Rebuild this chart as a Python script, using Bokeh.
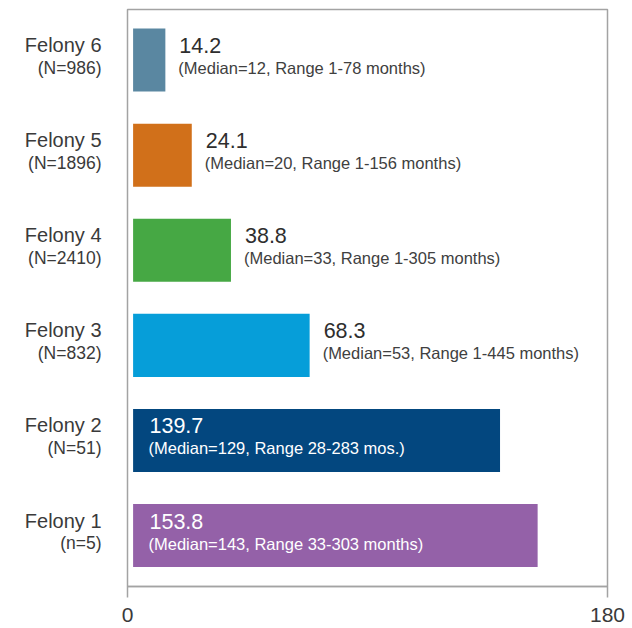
from bokeh.plotting import figure
from bokeh.layouts import row
from bokeh.models import ColumnDataSource, FixedTicker, Range1d
from bokeh.core.properties import value
from bokeh.embed import file_html
from bokeh.resources import INLINE

# ---- data (bottom to top) ----
categories = ["Felony 1", "Felony 2", "Felony 3", "Felony 4", "Felony 5", "Felony 6"]
n_labels = ["(n=5)", "(N=51)", "(N=832)", "(N=2410)", "(N=1896)", "(N=986)"]
means = [153.8, 139.7, 68.3, 38.8, 24.1, 14.2]
mean_labels = ["153.8", "139.7", "68.3", "38.8", "24.1", "14.2"]
details = [
    "(Median=143, Range 33-303 months)",
    "(Median=129, Range 28-283 mos.)",
    "(Median=53, Range 1-445 months)",
    "(Median=33, Range 1-305 months)",
    "(Median=20, Range 1-156 months)",
    "(Median=12, Range 1-78 months)",
]
colors = ["#9461a8", "#03477f", "#069ed9", "#46a844", "#d1701a", "#5a87a1"]
x_ticks = [0, 180]

FONT = value("Liberation Sans")
BAR_GAP = 2.1  # visual gap between frame and bar start
INSIDE_LIMIT = 100
TOP, BOTTOM = 9, 42
LEFT_W = 112

ypos = list(range(len(categories)))
src = ColumnDataSource(dict(y=ypos, cat=categories, n=n_labels, mean=means,
                            color=colors, one=[1] * len(means)))

inside = [i for i, m in enumerate(means) if m > INSIDE_LIMIT]
outside = [i for i, m in enumerate(means) if m <= INSIDE_LIMIT]

def sub(idx):
    return ColumnDataSource(dict(
        y=[ypos[i] for i in idx], mean=[means[i] for i in idx],
        mlab=[mean_labels[i] for i in idx], det=[details[i] for i in idx],
        zero=[0] * len(idx)))

src_in = sub(inside)
src_out = sub(outside)

yr = Range1d(-0.536, 5.532)

# ---- label column (left) ----
lf = figure(width=LEFT_W, height=628, output_backend="svg", toolbar_location=None,
            x_range=Range1d(0, 1), y_range=yr, min_border_left=0,
            min_border_right=0, min_border_top=TOP, min_border_bottom=BOTTOM)
lf.axis.visible = False
lf.grid.visible = False
lf.outline_line_color = None
lf.text(x="one", y="y", text="cat", source=src, x_offset=-11, y_offset=-15,
        text_align="right", text_baseline="middle", text_font=FONT,
        text_font_size="20px", text_color="#3a3a3a")
lf.text(x="one", y="y", text="n", source=src, x_offset=-11, y_offset=7.5,
        text_align="right", text_baseline="middle", text_font=FONT,
        text_font_size="17.5px", text_color="#3a3a3a")

# ---- main chart ----
p = figure(width=632 - LEFT_W, height=628, output_backend="svg",
           toolbar_location=None, x_range=Range1d(0, 180), y_range=yr,
           min_border_left=127 - LEFT_W, min_border_right=25,
           min_border_top=TOP, min_border_bottom=BOTTOM)

p.hbar(y="y", left=BAR_GAP, right="mean", height=0.663, color="color",
       line_color=None, source=src)

for s, xcol, xoff, c1, c2 in [(src_in, "zero", 22, "white", "white"),
                              (src_out, "mean", 14, "#2e2e2e", "#404040")]:
    p.text(x=xcol, y="y", text="mlab", source=s, x_offset=xoff, y_offset=-14.5,
           text_font=FONT, text_font_size="21.5px", text_color=c1,
           text_baseline="middle", text_align="left")
    p.text(x=xcol, y="y", text="det", source=s, x_offset=xoff - 1, y_offset=8,
           text_font=FONT, text_font_size="16.5px", text_color=c2,
           text_baseline="middle", text_align="left")

p.yaxis.visible = False
p.grid.visible = False
p.outline_line_color = "#a3a3a3"
p.outline_line_width = 1.5

xa = p.xaxis[0]
xa.ticker = FixedTicker(ticks=x_ticks)
xa.axis_line_color = "#a3a3a3"
xa.axis_line_width = 1.5
xa.major_tick_line_color = "#a3a3a3"
xa.major_tick_line_width = 1.5
xa.major_tick_in = 0
xa.major_tick_out = 11
xa.minor_tick_line_color = None
xa.major_label_text_font = "Liberation Sans"
xa.major_label_text_font_size = "21px"
xa.major_label_text_color = "#3a3a3a"
xa.major_label_standoff = 10

layout = row(lf, p, spacing=0)
open("out.html", "w").write(file_html(layout, INLINE))
